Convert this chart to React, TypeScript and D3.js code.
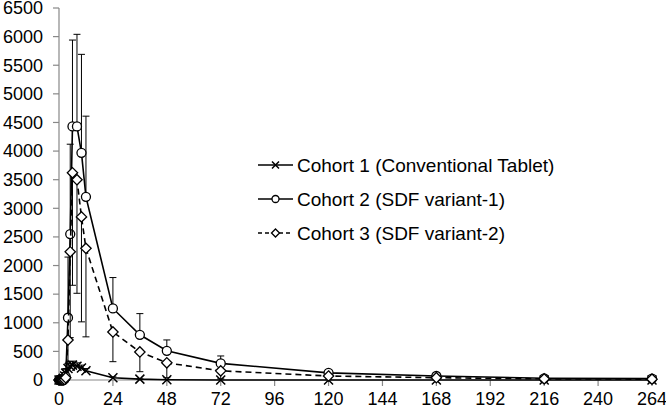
import * as d3 from "d3";

// sampling times (h)
const times = [0, 0.5, 1, 1.5, 2, 2.5, 3, 4, 5, 6, 8, 10, 12, 24, 36, 48, 72, 120, 168, 216, 264];

// cohort 1 - conventional tablet (whiskers up)
const c1Values = [0, 0, 0, 10, 30, 70, 120, 200, 240, 260, 240, 210, 160, 40, 15, 5, 0, 0, 0, 0, 0];
const c1Sd = [0, 0, 5, 15, 40, 60, 80, 90, 80, 70, 60, 50, 40, 15, 5, 0, 0, 0, 0, 0, 0];

// cohort 2 - SDF variant-1 (whiskers up)
const c2Values = [0, 0, 0, 0, 5, 20, 60, 1088, 2550, 4430, 4430, 3970, 3200, 1250, 790, 510, 290, 125, 70, 30, 25];
const c2Sd = [0, 0, 0, 0, 10, 40, 120, 1060, 1570, 1510, 1610, 1720, 1410, 540, 370, 190, 130, 40, 25, 15, 10];

// cohort 3 - SDF variant-2 (whiskers down)
const c3Values = [0, 0, 0, 0, 0, 10, 40, 700, 2240, 3620, 3500, 2850, 2300, 840, 490, 300, 160, 70, 40, 20, 15];
const c3Sd = [0, 0, 0, 0, 0, 10, 40, 500, 1500, 1965, 1985, 1834, 1546, 520, 345, 260, 140, 55, 30, 15, 10];

const xTicks = [0, 24, 48, 72, 96, 120, 144, 168, 192, 216, 240, 264];
const yTicks = d3.range(0, 6501, 500);

const legendLabels = [
  "Cohort 1 (Conventional Tablet)",
  "Cohort 2 (SDF variant-1)",
  "Cohort 3 (SDF variant-2)",
];

const width = 666;
const height = 411;
const font = "'Liberation Sans', Arial, sans-serif";

type Marker = "cross" | "circle" | "diamond";

function MarkerShape({ type, x, y, s }: { type: Marker; x: number; y: number; s: number }) {
  if (type === "circle") {
    return <circle cx={x} cy={y} r={s} fill="#fff" stroke="#000" strokeWidth={1.3} />;
  }
  if (type === "diamond") {
    const d = s * 1.15;
    return (
      <path
        d={`M${x},${y - d}L${x + d},${y}L${x},${y + d}L${x - d},${y}Z`}
        fill="#fff"
        stroke="#000"
        strokeWidth={1.3}
      />
    );
  }
  return (
    <path
      d={`M${x - s},${y - s}L${x + s},${y + s}M${x - s},${y + s}L${x + s},${y - s}`}
      stroke="#000"
      strokeWidth={1.5}
    />
  );
}

export default function App() {
  const x = d3.scaleLinear().domain([0, 264]).range([59, 652]);
  const y = d3.scaleLinear().domain([0, 6500]).range([380, 8]);

  const series = [
    { values: c1Values, sd: c1Sd, dir: 1, marker: "cross" as Marker, dash: undefined },
    { values: c2Values, sd: c2Sd, dir: 1, marker: "circle" as Marker, dash: undefined },
    { values: c3Values, sd: c3Sd, dir: -1, marker: "diamond" as Marker, dash: "6,4" },
  ];

  const line = d3
    .line<number>()
    .x((_, i) => x(times[i]))
    .y((d) => y(d));

  return (
    <svg
      width={width}
      height={height}
      style={{ position: "absolute", left: 0, top: 0, background: "#fff" }}
      fontFamily={font}
    >
      {/* y axis */}
      <line x1={59} x2={59} y1={y(6500)} y2={y(0)} stroke="#888" strokeWidth={1.2} />
      {yTicks.map((t) => (
        <g key={t}>
          <line x1={53} x2={59} y1={y(t)} y2={y(t)} stroke="#888" strokeWidth={1.2} />
          <text x={43} y={y(t)} dy="0.35em" textAnchor="end" fontSize={18}>
            {t}
          </text>
        </g>
      ))}
      {/* x axis */}
      <line x1={x(0)} x2={x(264)} y1={380} y2={380} stroke="#888" strokeWidth={1.2} />
      {xTicks.map((t) => (
        <g key={t}>
          <line x1={x(t)} x2={x(t)} y1={380} y2={386} stroke="#888" strokeWidth={1.2} />
          <text x={x(t)} y={399} dy="0.35em" textAnchor="middle" fontSize={18}>
            {t}
          </text>
        </g>
      ))}

      {series.map((s, si) => (
        <g key={si}>
          {/* error bars */}
          {s.values.map((v, i) => {
            if (!s.sd[i]) return null;
            const end = y(Math.max(0, v + s.dir * s.sd[i]));
            const cx = x(times[i]);
            return (
              <g key={i} stroke="#000" strokeWidth={1}>
                <line x1={cx} x2={cx} y1={y(v)} y2={end} />
                <line x1={cx - 3.5} x2={cx + 3.5} y1={end} y2={end} />
              </g>
            );
          })}
          <path
            d={line(s.values) || ""}
            fill="none"
            stroke="#000"
            strokeWidth={1.6}
            strokeDasharray={s.dash}
          />
          {s.values.map((v, i) => (
            <MarkerShape key={i} type={s.marker} x={x(times[i])} y={y(v)} s={4.5} />
          ))}
        </g>
      ))}

      {/* legend */}
      {series.map((s, i) => {
        const ly = 165 + i * 34;
        return (
          <g key={i}>
            <line
              x1={258}
              x2={293}
              y1={ly}
              y2={ly}
              stroke="#000"
              strokeWidth={1.6}
              strokeDasharray={s.dash ? "4,3" : undefined}
            />
            <MarkerShape type={s.marker} x={275.5} y={ly} s={3.5} />
            <text x={297} y={ly} dy="0.35em" fontSize={19}>
              {legendLabels[i]}
            </text>
          </g>
        );
      })}
    </svg>
  );
}
